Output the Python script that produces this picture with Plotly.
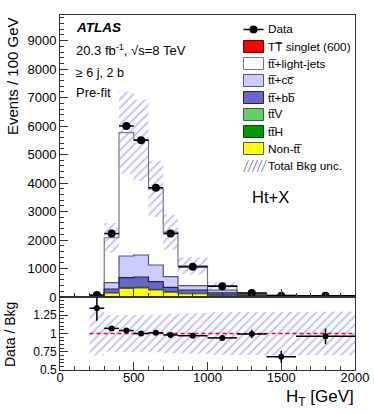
import numpy as np
import plotly.graph_objects as go

# ---------------- data ----------------
bin_edges = [200, 300, 400, 500, 600, 700, 800, 1000, 1200, 1400, 1600, 2000]
non_tt    = [8, 140, 300, 320, 245, 170, 115, 60, 22, 8, 5]
tt_H      = [1, 5, 12, 13, 10, 7, 5, 3, 1, 0.5, 0.3]
tt_V      = [1, 6, 15, 18, 14, 10, 8, 5, 2, 1, 0.5]
tt_bb     = [10, 130, 351, 351, 269, 152, 117, 82, 35, 10, 6]
tt_cc     = [10, 221, 761, 772, 585, 374, 153, 90, 34, 15, 8]
tt_light  = [22, 1578, 4335, 4031, 2675, 1562, 693, 160, 46, 33, 27]
data_vals = [70, 2226, 6005, 5505, 3836, 2230, 1058, 376, 139, 46, 45]
data_err  = [9, 47, 77, 74, 62, 47, 23, 14, 8, 5.5, 5]
bkg_unc   = [0.30, 0.25, 0.25, 0.26, 0.26, 0.27, 0.28, 0.29, 0.30, 0.30, 0.30]

x_ticks = [0, 500, 1000, 1500, 2000]
y_ticks = [0, 1000, 2000, 3000, 4000, 5000, 6000, 7000, 8000, 9000]
r_ticks = [0.5, 0.75, 1, 1.25]
r_ticklabels = ["0.5", "0.75", "1", "1.25"]

FONT = "Liberation Sans, Arial, Helvetica, sans-serif"
W, H = 374, 414
L, R, T, B = 60, 355, 15, 370
YSPLIT = 297

def pxx(x):
    return (x - L) / (R - L)

def pxy(y):
    return (B - y) / (B - T)

edges = np.array(bin_edges, dtype=float)
centers = 0.5 * (edges[:-1] + edges[1:])
halfw = 0.5 * (edges[1:] - edges[:-1])

layers = [
    ("Non-tt", non_tt, "#ffff00", "#555555"),
    ("ttH", tt_H, "#009900", "#004400"),
    ("ttV", tt_V, "#66cc66", "#336633"),
    ("ttbb", tt_bb, "#6666cc", "#222244"),
    ("ttcc", tt_cc, "#ccccff", "#555577"),
    ("light", tt_light, "#ffffff", "#777777"),
]
cum = np.zeros(len(centers))
cums = []
for name, vals, fc, lc in layers:
    cum = cum + np.array(vals, dtype=float)
    cums.append((name, cum.copy(), fc, lc))
total = cum

def step_closed(vals):
    xs = [edges[0]]
    ys = [0.0]
    for i, v in enumerate(vals):
        xs += [edges[i], edges[i + 1]]
        ys += [v, v]
    xs.append(edges[-1])
    ys.append(0.0)
    return xs, ys

def band_poly(lo, hi):
    xs, ys = [], []
    for i in range(len(hi)):
        xs += [edges[i], edges[i + 1]]
        ys += [hi[i], hi[i]]
    for i in reversed(range(len(lo))):
        xs += [edges[i + 1], edges[i]]
        ys += [lo[i], lo[i]]
    xs.append(xs[0]); ys.append(ys[0])
    return xs, ys

fig = go.Figure()

for name, c, fc, lc in reversed(cums):
    xs, ys = step_closed(c)
    fig.add_trace(go.Scatter(x=xs, y=ys, mode="lines", fill="toself",
                             fillcolor=fc, line=dict(color=lc, width=1.2),
                             xaxis="x", yaxis="y", showlegend=False, hoverinfo="skip"))

unc = np.array(bkg_unc)
hatch = dict(shape="/", fgcolor="#7a7aff", bgcolor="rgba(0,0,0,0)", size=6, solidity=0.3)
bx, by = band_poly(total * (1 - unc), total * (1 + unc))
fig.add_trace(go.Scatter(x=bx, y=by, mode="lines", fill="toself", fillcolor="rgba(0,0,0,0)",
                         fillpattern=hatch, line=dict(width=0, color="rgba(0,0,0,0)"),
                         xaxis="x", yaxis="y", showlegend=False, hoverinfo="skip"))

fig.add_trace(go.Scatter(x=centers, y=data_vals, mode="markers",
                         marker=dict(color="black", size=8),
                         error_x=dict(type="data", array=halfw, width=0, thickness=1.5, color="black"),
                         error_y=dict(type="data", array=data_err, width=0, thickness=1.5, color="black"),
                         xaxis="x", yaxis="y", showlegend=False))

rx, ry = band_poly(1 - unc, 1 + unc)
fig.add_trace(go.Scatter(x=rx, y=ry, mode="lines", fill="toself", fillcolor="rgba(0,0,0,0)",
                         fillpattern=hatch, line=dict(width=0, color="rgba(0,0,0,0)"),
                         xaxis="x2", yaxis="y2", showlegend=False, hoverinfo="skip"))
fig.add_trace(go.Scatter(x=[edges[0], edges[-1]], y=[1, 1], mode="lines",
                         line=dict(color="#ff0000", width=1.3, dash="4px,3px"),
                         xaxis="x2", yaxis="y2", showlegend=False, hoverinfo="skip"))
ratio = np.array(data_vals) / total
ratio_err = np.array(data_err) / total
fig.add_trace(go.Scatter(x=centers, y=ratio, mode="markers",
                         marker=dict(color="black", size=6),
                         error_x=dict(type="data", array=halfw, width=0, thickness=1.5, color="black"),
                         error_y=dict(type="data", array=ratio_err, width=0, thickness=1.5, color="black"),
                         xaxis="x2", yaxis="y2", showlegend=False))

split = pxy(YSPLIT)
axcol = "#333333"
tickfont = dict(family=FONT, size=13, color="black")
common_x = dict(range=[0, 2000], ticks="inside", ticklen=8, tickcolor=axcol, tickwidth=1,
                tickvals=x_ticks, showline=True, linecolor=axcol, linewidth=1, mirror=True,
                showgrid=False, zeroline=False,
                minor=dict(dtick=100, ticks="inside", ticklen=4, tickcolor=axcol, showgrid=False))

fig.update_layout(
    width=W, height=H,
    margin=dict(l=L, r=W - R, t=T, b=H - B, autoexpand=False),
    paper_bgcolor="white", plot_bgcolor="rgba(0,0,0,0)",
    font=dict(family=FONT, size=13, color="black"),
    xaxis=dict(domain=[0, 1], anchor="y", showticklabels=False, **common_x),
    xaxis2=dict(domain=[0, 1], anchor="y2", showticklabels=True, tickfont=tickfont,
                ticklabelstandoff=-5, **common_x),
    yaxis=dict(domain=[split, 1], anchor="x", range=[0, 9900], tickvals=y_ticks,
               ticks="inside", ticklen=8, tickcolor=axcol, showline=True, linecolor=axcol,
               linewidth=1, mirror=True, showgrid=False, zeroline=False, tickfont=tickfont,
               minor=dict(dtick=200, ticks="inside", ticklen=4, tickcolor=axcol, showgrid=False)),
    yaxis2=dict(domain=[0, split], anchor="x2", range=[0.5, 1.5], tickvals=r_ticks,
                ticktext=r_ticklabels, ticks="inside", ticklen=8, tickcolor=axcol,
                showline=True, linecolor=axcol, linewidth=1, mirror=True, showgrid=False,
                zeroline=False, tickfont=dict(family=FONT, size=12, color="black"),
                minor=dict(dtick=0.05, ticks="inside", ticklen=4, tickcolor=axcol, showgrid=False)),
)

ann = []
def text(x, y, s, size=13, xanchor="left", yanchor="middle", angle=0, **kw):
    ann.append(dict(x=pxx(x), y=pxy(y), xref="paper", yref="paper", text=s, showarrow=False,
                    xanchor=xanchor, yanchor=yanchor, textangle=angle,
                    font=dict(family=FONT, size=size, color="black"), **kw))

text(12, 15, "Events / 100 GeV", size=15, xanchor="center", yanchor="top", angle=-90)
text(10, 335, "Data / Bkg", size=14, xanchor="center", yanchor="middle", angle=-90)
text(356, 398, "H<sub>T</sub> [GeV]", size=17, xanchor="right", yanchor="middle")

text(74, 28, "<b><i>ATLAS</i></b>", size=13.5)
text(74, 50, "20.3 fb<sup>-1</sup>, √s=8 TeV", size=13)
text(74, 73, "≥ 6 j, 2 b", size=12.5)
text(74, 92, "Pre-fit", size=13)
text(250, 197, "Ht+X", size=16.5)

shapes = []
leg_x0, leg_x1 = 243.5, 263.5
leg_text_x = 266
rows = [29.5, 46.5, 63.5, 80.5, 97.5, 114.5, 131.5, 148.5, 166]
labels = ["Data", "TT\u0305 singlet (600)", "tt\u0305+light-jets", "tt\u0305+cc\u0305",
          "tt\u0305+bb\u0305", "tt\u0305V", "tt\u0305H", "Non-tt\u0305", "Total Bkg unc."]
box_styles = [None, ("#ff0000", "#660000"), ("#ffffff", "#777777"), ("#ccccff", "#555577"),
              ("#6666cc", "#222244"), ("#66cc66", "#336633"), ("#009900", "#004400"),
              ("#ffff00", "#555555"), "hatch"]
for yy, lab, st in zip(rows, labels, box_styles):
    if st is None:
        shapes.append(dict(type="line", xref="paper", yref="paper", x0=pxx(leg_x0), x1=pxx(leg_x1),
                           y0=pxy(yy), y1=pxy(yy), line=dict(color="black", width=1.5)))
        shapes.append(dict(type="circle", xref="paper", yref="paper", x0=pxx(249.5), x1=pxx(257.5),
                           y0=pxy(yy + 4), y1=pxy(yy - 4), fillcolor="black", line=dict(width=0)))
    elif st == "hatch":
        for k in range(5):
            xa = leg_x0 + k * 4.5
            shapes.append(dict(type="line", xref="paper", yref="paper", x0=pxx(xa), x1=pxx(xa + 5),
                               y0=pxy(yy + 6), y1=pxy(yy - 6), line=dict(color="#7a7aff", width=1)))
    else:
        shapes.append(dict(type="rect", xref="paper", yref="paper", x0=pxx(leg_x0), x1=pxx(leg_x1),
                           y0=pxy(yy + 6), y1=pxy(yy - 6), fillcolor=st[0],
                           line=dict(color=st[1], width=1)))
    text(leg_text_x, yy, lab, size=11.8)

fig.update_layout(annotations=ann, shapes=shapes)
fig.write_html("out.html", config={"displayModeBar": False},
               post_script="document.body.style.margin='0px';document.body.style.padding='0px';")
